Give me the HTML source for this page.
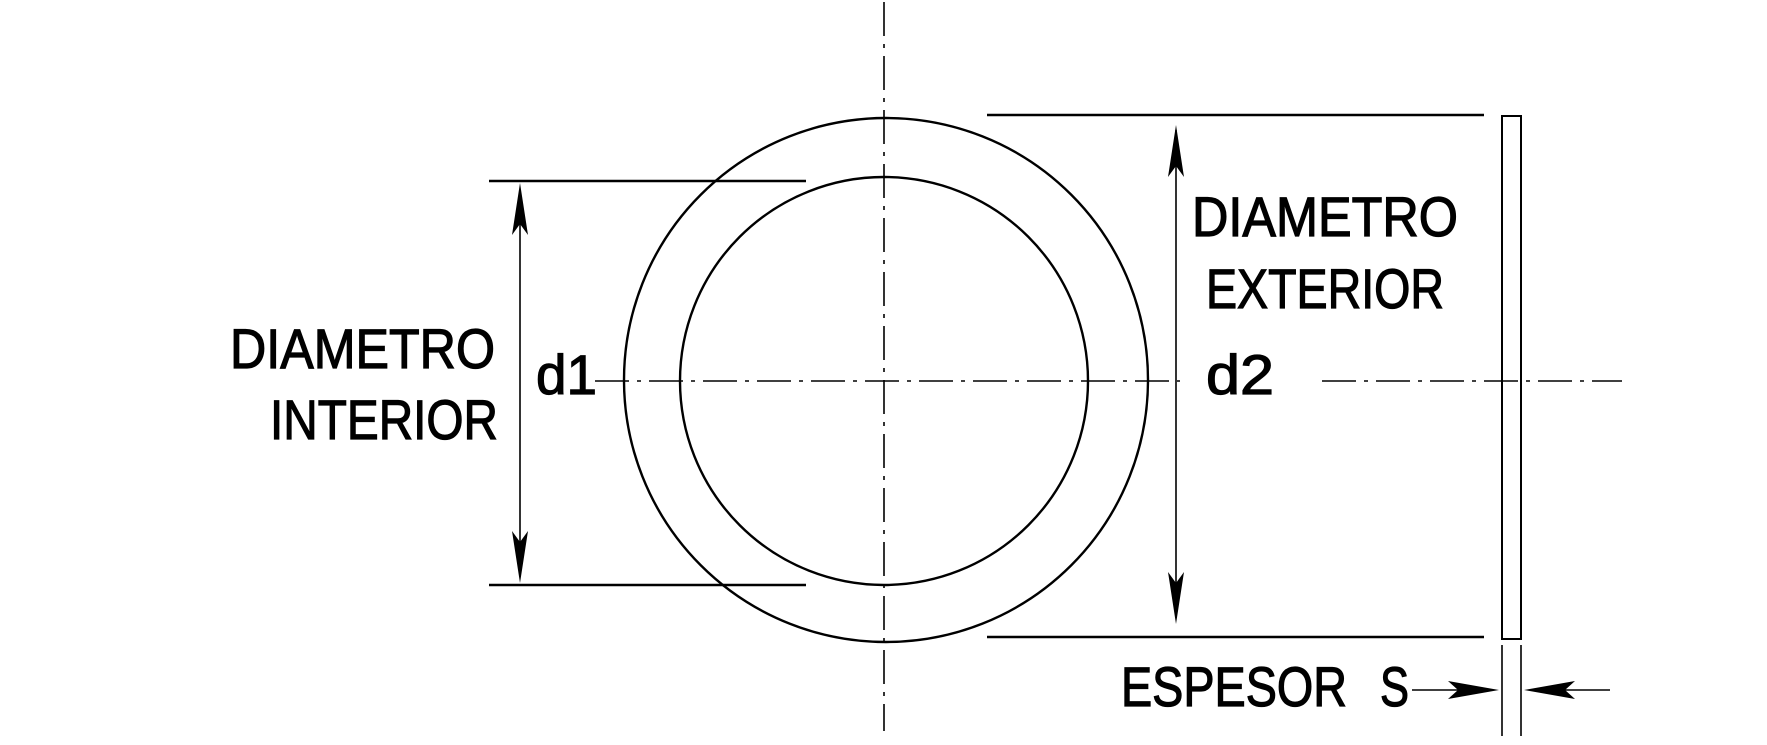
<!DOCTYPE html>
<html><head><meta charset="utf-8"><style>
html,body{margin:0;padding:0;background:#fff;}
svg{display:block;}
text{font-family:"Liberation Sans",sans-serif;font-size:56px;fill:#000;stroke:#000;stroke-width:1.2px;}
</style></head><body>
<svg width="1767" height="745" viewBox="0 0 1767 745" xmlns="http://www.w3.org/2000/svg">
<g stroke="#000" fill="none" stroke-width="2.4">
<circle cx="886" cy="380" r="262"/>
<circle cx="884" cy="381" r="204"/>
<line x1="884" y1="2" x2="884" y2="731" stroke-width="1.6" stroke-dasharray="34,8,4,8"/>
<line x1="595" y1="381" x2="1180" y2="381" stroke-width="1.6" stroke-dasharray="34,8,4,8"/>
<line x1="1322" y1="381" x2="1622" y2="381" stroke-width="1.6" stroke-dasharray="34,8,4,8"/>
<line x1="987" y1="115" x2="1484" y2="115"/>
<line x1="987" y1="637" x2="1484" y2="637"/>
<line x1="489" y1="181" x2="806" y2="181"/>
<line x1="489" y1="585" x2="806" y2="585"/>
<line x1="520" y1="190" x2="520" y2="576" stroke-width="1.6"/>
<line x1="1176" y1="130" x2="1176" y2="618" stroke-width="1.6"/>
<rect x="1502" y="116" width="19" height="523" stroke-width="2"/>
<line x1="1502" y1="645" x2="1502" y2="736" stroke-width="1.6"/>
<line x1="1521" y1="645" x2="1521" y2="736" stroke-width="1.6"/>
<line x1="1412" y1="690" x2="1490" y2="690" stroke-width="1.6"/>
<line x1="1532" y1="690" x2="1610" y2="690" stroke-width="1.6"/>
</g>
<g fill="#000">
<polygon points="520,183 512,235 520,224 528,235"/>
<polygon points="520,583 512,531 520,542 528,531"/>
<polygon points="1176,125 1168,177 1176,166 1184,177"/>
<polygon points="1176,624 1168,572 1176,583 1184,572"/>
<polygon points="1499,690 1448,681 1458,690 1448,699"/>
<polygon points="1524,690 1575,681 1565,690 1575,699"/>
</g>
<text x="230" y="368" textLength="265" lengthAdjust="spacingAndGlyphs">DIAMETRO</text>
<text x="270" y="439" textLength="228" lengthAdjust="spacingAndGlyphs">INTERIOR</text>
<text x="536" y="394" textLength="61" lengthAdjust="spacingAndGlyphs">d1</text>
<text x="1192" y="236" textLength="266" lengthAdjust="spacingAndGlyphs">DIAMETRO</text>
<text x="1206" y="308" textLength="238" lengthAdjust="spacingAndGlyphs">EXTERIOR</text>
<text x="1206" y="394" textLength="68" lengthAdjust="spacingAndGlyphs">d2</text>
<text x="1121" y="706" textLength="226" lengthAdjust="spacingAndGlyphs">ESPESOR</text>
<text x="1380" y="706" textLength="29" lengthAdjust="spacingAndGlyphs">S</text>
</svg>
</body></html>
